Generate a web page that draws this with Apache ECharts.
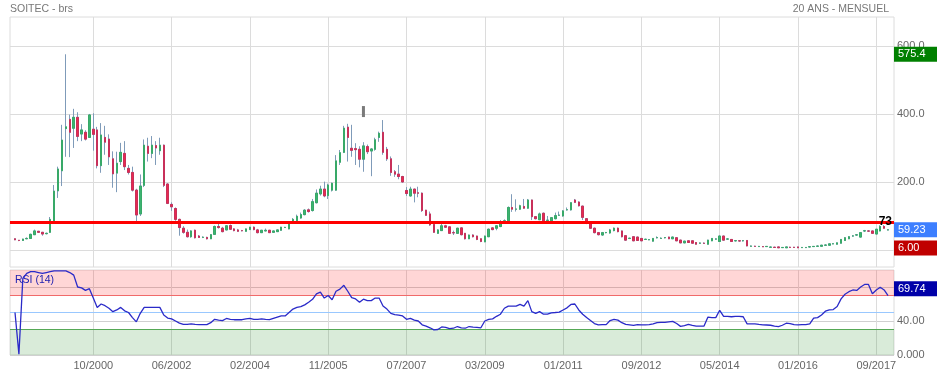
<!DOCTYPE html>
<html><head><meta charset="utf-8">
<script src="https://cdn.jsdelivr.net/npm/echarts@6/dist/echarts.min.js"></script>
<style>html,body{margin:0;padding:0;background:#fff}#c{width:937px;height:375px}</style>
</head><body><div id="c"></div>
<script>
// Monthly candles (index 0 = first month shown)
const openP = [
33,28.5,28,33,34,45,55,52,48,52,
83,174,233,357,384,358,390,341,346,331,
355,353,248,331,326,268,226,260,284,240,
228,176,106,190,305,284,307,292,308,194,
134,122,90,64,52,39,58,41,37,37,
33,46,69,64,59,72,62,59,57,55,
60,67,59,51,56,58,52,54,58,66,
62,78,86,94,104,118,116,139,165,179,
160,176,176,258,287,361,299,298,296,267,
304,291,296,331,346,296,268,230,223,216,
175,159,179,168,167,117,106,75,49,57,
71,68,51,49,65,49,33,44,41,33,
24,39,65,64,69,82,86,125,120,120,
128,123,147,98,89,108,87,86,92,102,
100,118,118,147,141,129,92,80,64,51,
44,51,50,57,64,56,42,34,39,38,
34,31,30,26,36,34,36,38,33,36,
29,21,27,27,22,20,20,17,27,32,
25,41,32,31,27,27,27,28,11,11,
10,10,10,8,8,9,7,6.5,8,8,
9,7,7,9,10,11,11,14,14,18,
17,20,28,33,41,44,38,56,56,56,
47,56,69,59];
const closeP = [
30,28,32,34,46,56,52,47,49,90,
173,238,323,362,346,390,334,353,326,397,
340,248,338,317,274,224,255,287,245,228,
176,103,188,308,284,308,300,308,190,137,
127,90,66,52,39,56,36,37,37.5,33,
45,69,66,54,71,61,57,55,56.5,62,
67,60,51,58,58,51,56,59,67,66.5,
76,90,99,104,117,113,142,167,179,159,
191,196,262,286,358,331,293,295,267,306,
289,297,324,343,287,268,228,223,216,200,
166,179,167,167,116,102,74,52,59,71,
67,49,50.5,64,45,33,44,39,31,25,
41,61,60,71,82,86,125,120,120.5,130,
123,147,98,92,106,86,87.5,95,101,102.5,
115,118.5,139,140,130,96,78,64,51,45,
51,51.5,59,64,54,39,29,34.5,27,28,
27,31.5,30.5,34,36.5,34.5,36.5,33,38,27,
21,26,22,20,17,20.5,19.5,29,34,32.5,
41,29,32.5,25,27.5,26.5,27.5,12,11.5,10.5,
10.5,9.5,10.5,8.5,7.5,6.5,7.5,9,7.5,7.5,
6.5,7.5,7.5,9.5,10.5,11.5,14,14.5,18,18.5,
21,31,36,39,41.5,44.5,51,56.5,55.5,49,
61,69,64,59.23];
const lowP = [
29,26,27,32,33,44,50,42,46,50,
80,153,188,274,273,300,320,320,322,330,
292,240,227,280,250,183,170,250,235,222,
172,85,100,185,260,270,250,280,185,135,
115,86,42,48,37,36,34,36,35,31,
32,45,63,52,58,59,55,53,55,54,
59,58,49,50,55,50,51,53,57,65,
61,77,85,92,102,110,113,137,160,155,
150,172,174,250,285,260,274,250,243,230,
282,217,292,318,280,262,218,215,208,198,
159,157,140,155,112,100,71,50,47,56,
65,47,44,48,43,31,32,37,29,23,
23,38,58,58,67,80,85,112,113,118,
121,121,88,90,88,84,84,84,90,100,
98,116,116,138,128,88,76,62,49,43,
42,49,48,55,52,37,27,32,26,27,
26,30,29,25,34,33,34,32,32,26,
20,20,21,19,16,18,18,16,26,30,
24,28,30,24,25,25,25,11,10,9.5,
9,9,9,7,7,6,6,6,7,7,
6,6,6.5,8,9,10,10,13,13,17,
16,19,27,32,39,42,37,53,53,48,
46,55,63,58];
const highP = [
34,29,33,37,48,60,56,53,51,97,
191,245,368,575.4,398,415,405,370,352,400,
402,362,373,365,340,290,289,315,320,250,
245,180,222,325,330,335,320,330,310,196,
140,125,92,70,60,58,60,44,40,39,
47,72,78,68,73,75,64,62,59,63,
68,69,62,59,63,59,57,60,68,68,
77,94,104,110,120,122,150,178,189,201,
195,198,279,294,365,371,368,314,305,317,
310,299,330,348,382,303,275,235,250,218,
185,186,180,186,169,118,113,77,61,78,
74,69,57,65,66,50,45,46,42,34,
42,63,67,72,88,90,128,164,149,133,
150,150,148,100,110,110,100,97,110,113,
117,125,140,150,143,130,94,82,66,53,
53,53,62,66,66,57,43,36,40,39,
35,33,32,35,40,37,38,39,39,37,
30,27,28,28,23,22,22,30,35,34,
43,42,34,32,29,29,29,29,13,12.5,
12,11.5,11.5,10,9.5,9.5,8.5,9.5,9.5,9,
9.5,8.5,8.5,10.5,11.5,12.5,15,16,19,20,
22,32,38,41,44,47,52,59,58,57,
62,73,73,61];
const rsi = [
50,1,90,96,98,98,97,96,97,98,
99,99,99,99,97,94,80,79,76,78,
67,56,60,58,55,51,53,56,52,50,
44,39,49,56,56,56,56,56,47,43.5,
42.5,40,37.5,36,36,36.5,36,35.7,35.7,35.7,
38,42,41,40.5,43,42,41.5,41.5,41.5,42.5,
43,41.8,42,42.5,41.8,41.5,43,44.5,46,46,
50,54,56,57,59,62,65.5,72,74,67,
70,65,75,77.5,82,75,67.5,66,62,65.7,
64,64,67,67,57.6,54,49,47.5,47,46,
42,43,41,40,35.5,34,32,29.5,30,33,
32.5,31,31.5,33.5,32,31.5,33.5,32.7,32.5,32,
40,41.8,42.5,45.5,48,55,57.5,57.5,57.5,59.6,
57.5,64,51,49,51,48,48,49.6,50,50.5,
53,55.5,59.5,60,53,48,44,40.5,37,35.5,
35.7,35.7,40.5,42,41,38,36,35.5,34.8,35.8,
35.5,35.5,35.7,36.5,38,38.5,38.5,39,39.5,37,
33.7,34.5,36,34.8,34,34,34,44.6,44,44,
52.6,45.5,45.5,45,45.5,45.5,45,36.6,36.6,36.6,
36,35.5,35.3,35,34,33.5,35,37.4,37,35.8,
35.5,35.7,35.7,36.5,43.5,44,47,51.5,53,53.5,
57,66,71.5,74.5,76.5,76,80,83,83,72,
76.5,79.7,76.5,69.74];
const tickLabels = ['10/2000','06/2002','02/2004','11/2005','07/2007','03/2009','01/2011','09/2012','05/2014','01/2016','09/2017'];
const tickStep = 20;
const priceTicks = [0, 200, 400, 600];
const rsiTicks = [0, 40, 80];
const supportLevel = 83, supportText = '73';
const markerIndex = 89, markerValue = 407;
const rsiBands = {overbought: 70, middle: 50, oversold: 30};

const n = openP.length;
const candles = openP.map((o, i) => [i, o, closeP[i], lowP[i], highP[i]]);
const bodies = openP.map((o, i) => [i, o, closeP[i], Math.min(o, closeP[i]), Math.max(o, closeP[i])]);
const rsiData = rsi.map((v, i) => [i, v]);
const xTicks = tickLabels.map((_, k) => (k + 1) * tickStep);
const lastClose = closeP[n - 1], lastRsi = rsi[n - 1];
const maxHigh = Math.max(...highP), minLow = Math.min(...lowP);

const FONT = 'Liberation Sans, Arial, sans-serif';
const fmt4 = v => v === 0 ? '0.000' : v.toPrecision(4);
const xMin = -1.277, xMax = 224.52;

function xAxis(gridIndex, showLabels) {
  return {
    type: 'value', gridIndex, min: xMin, max: xMax,
    axisLine: {show: false},
    axisTick: {show: false, customValues: xTicks},
    splitLine: {show: true, lineStyle: {color: '#dcdcdc', width: 1}},
    axisLabel: {show: showLabels, customValues: xTicks, margin: 5, color: '#666', fontSize: 11, fontFamily: FONT,
      formatter: v => tickLabels[Math.round(v / tickStep) - 1] || ''}
  };
}
function valueBox(val, text, bg, offsetY) {
  return {
    yAxis: val,
    lineStyle: {color: 'rgba(0,0,0,0)', width: 1, type: 'solid'},
    label: {show: true, position: 'end', distance: 0, formatter: text, color: '#fff', backgroundColor: bg,
      fontSize: 11, fontFamily: FONT, lineHeight: 13, padding: [1, 4, 1, 4], width: 36, align: 'left', offset: [0, offsetY || 0]}
  };
}
// RSI reference level: a plain two-point line across the panel, optionally filled to the panel edge
function levelSeries(val, color, fill, origin) {
  const s = {
    type: 'line', xAxisIndex: 1, yAxisIndex: 1, data: [[xMin, val], [xMax, val]], z: fill ? 1 : 3, silent: true,
    showSymbol: false, symbol: 'none', lineStyle: {color: color, width: 1, type: 'solid'}, emphasis: {disabled: true}
  };
  if (fill) s.areaStyle = {color: fill, opacity: 1, origin: origin};
  return s;
}

const chart = echarts.init(document.getElementById('c'), null, {renderer: 'canvas'});
chart.setOption({
  animation: false,
  textStyle: {fontFamily: FONT},
  title: [
    {text: 'SOITEC - brs', left: 10, top: 4, padding: 0, textStyle: {fontSize: 10.5, color: '#777', fontWeight: 'normal', fontFamily: FONT}},
    {text: '20 ANS - MENSUEL', right: 48, top: 4, padding: 0, textStyle: {fontSize: 10.5, color: '#777', fontWeight: 'normal', fontFamily: FONT}},
    {text: 'RSI (14)', left: 15, top: 275, padding: 0, textStyle: {fontSize: 10.5, color: '#2020b0', fontWeight: 'normal', fontFamily: FONT}}
  ],
  grid: [
    {left: 10, right: 43, top: 17, height: 250, show: true, borderColor: '#dcdcdc', borderWidth: 1, backgroundColor: 'transparent'},
    {left: 10, right: 43, top: 270, height: 85, show: true, borderColor: '#dcdcdc', borderWidth: 1, backgroundColor: 'transparent'}
  ],
  xAxis: [xAxis(0, false), xAxis(1, true)],
  yAxis: [
    {type: 'value', gridIndex: 0, position: 'right', min: -50, max: 685,
      axisLine: {show: false}, axisTick: {show: false, customValues: priceTicks},
      splitLine: {show: true, lineStyle: {color: '#dcdcdc'}},
      axisLabel: {customValues: priceTicks, margin: 3, color: '#666', fontSize: 11, fontFamily: FONT, formatter: fmt4, padding: [0, 0, 4, 0]}},
    {type: 'value', gridIndex: 1, position: 'right', min: 0, max: 100,
      axisLine: {show: false}, axisTick: {show: false, customValues: rsiTicks},
      splitLine: {show: true, lineStyle: {color: '#d0d0d0'}},
      axisLabel: {customValues: rsiTicks, margin: 3, color: '#666', fontSize: 11, fontFamily: FONT, formatter: fmt4, padding: [0, 0, 4, 0]}}
  ],
  series: [
    {
      name: 'wicks', type: 'candlestick', xAxisIndex: 0, yAxisIndex: 0, data: candles, barWidth: 2,
      itemStyle: {color: '#7f9bb9', color0: '#7f9bb9', borderColor: '#7f9bb9', borderColor0: '#7f9bb9', borderWidth: 1},
      markLine: {
        silent: true, symbol: 'none', animation: false,
        data: [
          {yAxis: supportLevel, lineStyle: {color: '#ff0000', width: 3, type: 'solid'},
            label: {show: true, position: 'insideEndTop', formatter: supportText, color: '#000', fontSize: 12, fontWeight: 'bold', fontFamily: FONT, offset: [3, 11]}},
          valueBox(maxHigh, maxHigh.toFixed(1), '#008000'),
          valueBox(lastClose, lastClose.toFixed(2), '#3d7fff'),
          valueBox(minLow, minLow.toFixed(2), '#c00000')
        ]
      },
      markPoint: {
        silent: true, animation: false,
        data: [{coord: [markerIndex, markerValue], symbol: 'rect', symbolSize: [3, 11], itemStyle: {color: '#7a7a7a'}, label: {show: false}}]
      }
    },
    {
      name: 'bodies', type: 'candlestick', xAxisIndex: 0, yAxisIndex: 0, data: bodies, barWidth: 2,
      itemStyle: {color: '#3cb371', color0: '#e8294f', borderColor: '#38a968', borderColor0: '#c8305a', borderWidth: 1}
    },
    levelSeries(rsiBands.overbought, '#f06a6a', 'rgba(255,0,0,0.16)', 'end'),
    levelSeries(rsiBands.middle, '#99c8ff'),
    levelSeries(rsiBands.oversold, '#55a855', 'rgba(0,120,0,0.15)', 'start'),
    {
      name: 'RSI', type: 'line', xAxisIndex: 1, yAxisIndex: 1, data: rsiData, showSymbol: false, symbol: 'none', z: 11,
      lineStyle: {color: '#2a2ac8', width: 1.3},
      markLine: {
        silent: true, symbol: 'none', animation: false,
        data: [valueBox(lastRsi, lastRsi.toFixed(2), '#0000a8', -7)]
      }
    }
  ]
});
</script>
</body></html>
